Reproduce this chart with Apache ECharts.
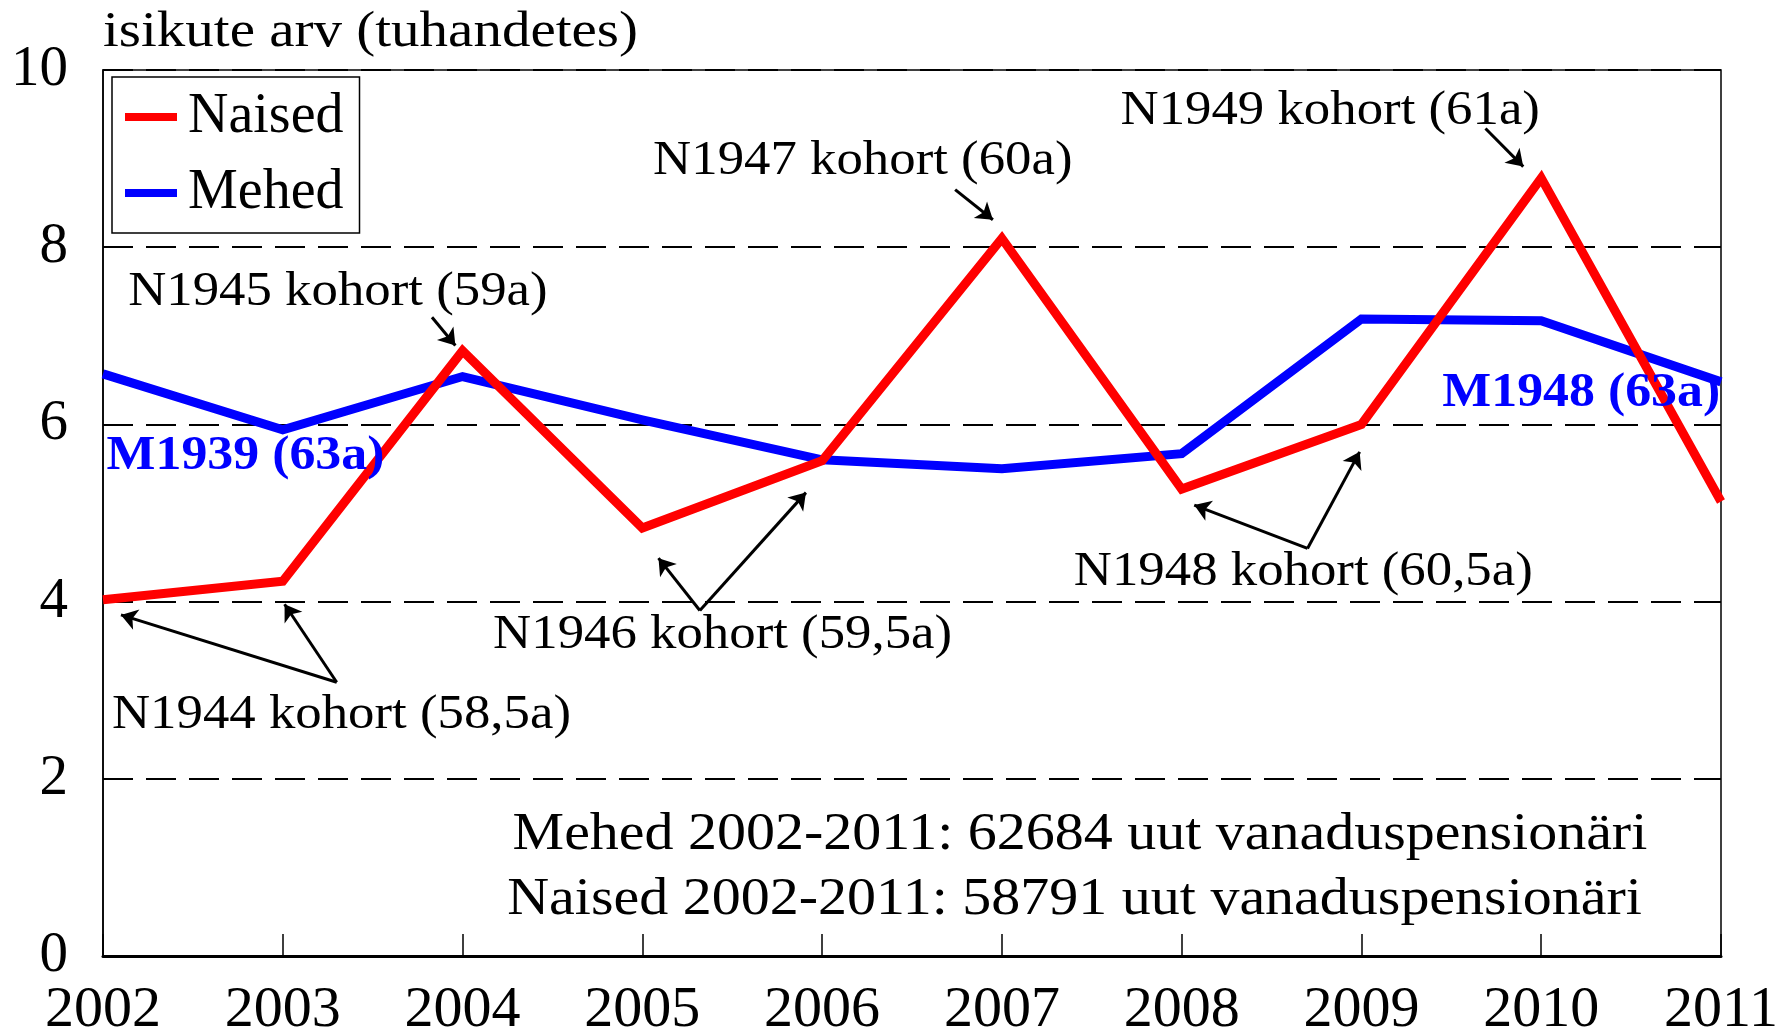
<!DOCTYPE html>
<html>
<head>
<meta charset="utf-8">
<script src="https://cdn.jsdelivr.net/npm/echarts@6/dist/echarts.min.js"></script>
<style>
html, body { margin: 0; padding: 0; background: #fff; }
#main { width: 1787px; height: 1033px; }
</style>
</head>
<body>
<div id="main"></div>
<script>
// andmed
let years = [2002, 2003, 2004, 2005, 2006, 2007, 2008, 2009, 2010, 2011];
let naised = [4.02, 4.23, 6.83, 4.83, 5.59, 8.10, 5.27, 6.00, 8.78, 5.13];
let mehed = [6.57, 5.94, 6.54, 6.05, 5.60, 5.50, 5.67, 7.19, 7.17, 6.48];

// tekstid graafikul (andmekoordinaadid: aasta, väärtus)
let notes = [
	{ text: 'N1945 kohort (59a)', x: 2002.14, y: 7.49 },
	{ text: 'N1947 kohort (60a)', x: 2005.06, y: 8.97 },
	{ text: 'N1949 kohort (61a)', x: 2007.66, y: 9.53 },
	{ text: 'N1944 kohort (58,5a)', x: 2002.05, y: 2.72 },
	{ text: 'N1946 kohort (59,5a)', x: 2004.17, y: 3.62 },
	{ text: 'N1948 kohort (60,5a)', x: 2007.40, y: 4.33 }
];
let maleNotes = [
	{ text: 'M1939 (63a)', x: 2002.02, y: 5.64 },
	{ text: 'M1948 (63a)', x: 2009.45, y: 6.35 }
];
let totals = [
	{ text: 'Mehed 2002-2011: 62684 uut vanaduspensionäri', x: 2010.59, y: 1.36 },
	{ text: 'Naised 2002-2011: 58791 uut vanaduspensionäri', x: 2010.56, y: 0.63 }
];
// nooled: [algus, ots]
let arrows = [
	[[2003.83, 7.21], [2003.96, 6.89]],
	[[2006.74, 8.65], [2006.95, 8.31]],
	[[2009.69, 9.34], [2009.90, 8.91]],
	[[2003.30, 3.09], [2002.10, 3.85]],
	[[2003.30, 3.09], [2003.01, 3.97]],
	[[2005.32, 3.90], [2005.09, 4.49]],
	[[2005.32, 3.90], [2005.91, 5.23]],
	[[2008.70, 4.60], [2008.07, 5.09]],
	[[2008.70, 4.60], [2008.99, 5.69]]
];

let font = 'Liberation Serif';
let chart = echarts.init(document.getElementById('main'));

let option = {
	backgroundColor: '#fff',
	animation: false,
	legend: {
		data: ['Naised', 'Mehed'],
		orient: 'vertical',
		left: 112,
		top: 77,
		padding: [12, 16, 12, 13],
		itemGap: 20,
		itemWidth: 52,
		itemHeight: 8,
		icon: 'rect',
		borderColor: '#000',
		borderWidth: 1.5,
		textStyle: { fontFamily: font, fontSize: 56, color: '#000', padding: [0, 0, 0, 6] }
	},
	grid: {
		left: 103, right: 66, top: 70, bottom: 77,
		outerBoundsMode: 'none',
		containLabel: false,
		show: true, borderColor: '#000', borderWidth: 1.5
	},
	xAxis: {
		type: 'value',
		min: 2002, max: 2011, interval: 1,
		axisLine: { lineStyle: { color: '#000', width: 3 } },
		axisTick: { show: true, inside: true, length: 22, lineStyle: { color: '#000', width: 1.5 } },
		splitLine: { show: false },
		axisLabel: {
			margin: 26, color: '#000', fontFamily: font, fontSize: 58,
			formatter: function (v) { return String(v); }
		}
	},
	yAxis: {
		type: 'value',
		min: 0, max: 10, interval: 2,
		axisLine: { show: true, lineStyle: { color: '#000', width: 1.5 } },
		axisTick: { show: false },
		splitLine: { lineStyle: { color: '#000', width: 2, type: [30, 13] } },
		axisLabel: { margin: 35, color: '#000', fontFamily: font, fontSize: 57 }
	},
	series: [
		{
			name: 'Mehed',
			type: 'line',
			data: years.map(function (y, i) { return [y, mehed[i]]; }),
			showSymbol: false,
			symbol: 'none',
			lineStyle: { color: '#0000ff', width: 9, join: 'miter' },
			itemStyle: { color: '#0000ff' }
		},
		{
			name: 'Naised',
			type: 'line',
			data: years.map(function (y, i) { return [y, naised[i]]; }),
			showSymbol: false,
			symbol: 'none',
			lineStyle: { color: '#ff0000', width: 9, join: 'miter' },
			itemStyle: { color: '#ff0000' },
			markLine: {
				silent: true,
				symbol: ['none', 'arrow'],
				symbolSize: 16,
				label: { show: false },
				lineStyle: { color: '#000', width: 3, type: 'solid' },
				data: arrows.map(function (a) {
					return [{ coord: a[0] }, { coord: a[1] }];
				})
			}
		}
	]
};
chart.setOption(option);

// tekstid pikslitesse
function px(x, y) {
	return chart.convertToPixel({ gridIndex: 0 }, [x, y]);
}
let graphics = [{
	type: 'text', left: 103, top: 8, z: 10,
	style: { text: 'isikute arv (tuhandetes)', fontFamily: font, fontSize: 50, fill: '#000' },
	scaleX: 1.14
}];
notes.forEach(function (n) {
	let p = px(n.x, n.y);
	graphics.push({
		type: 'text', x: p[0], y: p[1], z: 10, scaleX: 1.1,
		style: { text: n.text, fontFamily: font, fontSize: 48, fill: '#000', textAlign: 'left', textVerticalAlign: 'middle' }
	});
});
maleNotes.forEach(function (n) {
	let p = px(n.x, n.y);
	graphics.push({
		type: 'text', x: p[0], y: p[1], z: 10, scaleX: 1.08,
		style: { text: n.text, fontFamily: font, fontSize: 48, fontWeight: 'bold', fill: '#0000ff', textAlign: 'left', textVerticalAlign: 'middle' }
	});
});
totals.forEach(function (n) {
	let p = px(n.x, n.y);
	graphics.push({
		type: 'text', x: p[0], y: p[1], z: 10, scaleX: 1.115,
		style: { text: n.text, fontFamily: font, fontSize: 52, fill: '#000', textAlign: 'right', textVerticalAlign: 'middle' }
	});
});
chart.setOption({ graphic: graphics });
</script>
</body>
</html>
